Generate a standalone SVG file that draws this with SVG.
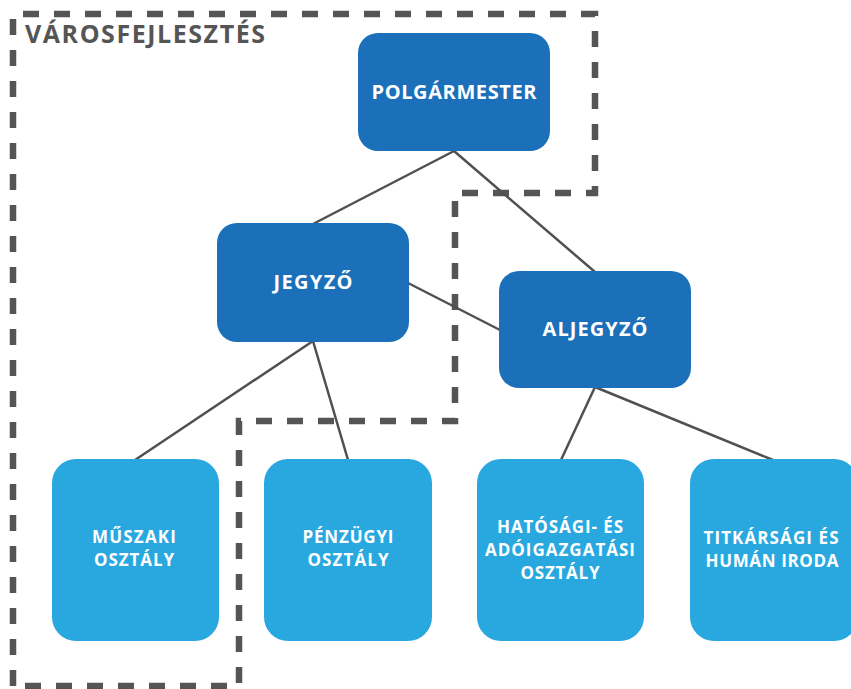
<svg xmlns="http://www.w3.org/2000/svg" width="851" height="689" viewBox="0 0 851 689">
<style>
.dark{fill:#1b70b9}
.light{fill:#29a8e0}
.t{font-family:"Open Sans","Liberation Sans",sans-serif;font-weight:bold;fill:#ffffff;text-anchor:middle}
.big{font-size:20px}
.small{font-size:17px}
.conn{stroke:#505050;stroke-width:2.5;fill:none}
.zone{stroke:#555555;stroke-width:6.5;fill:none;stroke-dasharray:16 15}
</style>
<rect width="851" height="689" fill="#ffffff"/>
<g id="zone">
<path class="zone" d="M13 686 L13 14 L595 14 L595 193 L455 193 L455 421 L239 421 L239 686 Z"/>
<text x="25" y="43" font-family="'Open Sans','Liberation Sans',sans-serif" font-weight="bold" font-size="25" fill="#555555" textLength="240" lengthAdjust="spacing">VÁROSFEJLESZTÉS</text>
</g>
<g id="connectors">
<line class="conn" x1="454" y1="151" x2="313" y2="224"/>
<line class="conn" x1="454" y1="151" x2="595" y2="272"/>
<line class="conn" x1="408" y1="283" x2="500" y2="330"/>
<line class="conn" x1="313" y1="341" x2="135" y2="460"/>
<line class="conn" x1="313" y1="341" x2="348" y2="460"/>
<line class="conn" x1="595" y1="387" x2="561" y2="460"/>
<line class="conn" x1="595" y1="387" x2="773" y2="460"/>
</g>
<g id="polgarmester">
<rect class="dark" x="358" y="33" width="192" height="118" rx="20"/>
<text class="t big" x="454" y="99" textLength="165" lengthAdjust="spacing">POLGÁRMESTER</text>
</g>
<g id="jegyzo">
<rect class="dark" x="217" y="223" width="192" height="119" rx="20"/>
<text class="t big" x="313" y="289" textLength="79" lengthAdjust="spacing">JEGYZŐ</text>
</g>
<g id="aljegyzo">
<rect class="dark" x="499" y="271" width="192" height="117" rx="20"/>
<text class="t big" x="595" y="336" textLength="105" lengthAdjust="spacing">ALJEGYZŐ</text>
</g>
<g id="muszaki">
<rect class="light" x="52" y="459" width="167" height="182" rx="24"/>
<text class="t small" x="134" y="543" textLength="84" lengthAdjust="spacing">MŰSZAKI</text>
<text class="t small" x="134" y="566" textLength="80" lengthAdjust="spacing">OSZTÁLY</text>
</g>
<g id="penzugyi">
<rect class="light" x="264" y="459" width="168" height="182" rx="24"/>
<text class="t small" x="348" y="543" textLength="91" lengthAdjust="spacing">PÉNZÜGYI</text>
<text class="t small" x="348" y="566" textLength="81" lengthAdjust="spacing">OSZTÁLY</text>
</g>
<g id="hatosagi">
<rect class="light" x="477" y="459" width="167" height="182" rx="24"/>
<text class="t small" x="560" y="533" textLength="126" lengthAdjust="spacing">HATÓSÁGI- ÉS</text>
<text class="t small" x="560" y="556" textLength="150" lengthAdjust="spacing">ADÓIGAZGATÁSI</text>
<text class="t small" x="560" y="579" textLength="79" lengthAdjust="spacing">OSZTÁLY</text>
</g>
<g id="titkarsagi">
<rect class="light" x="690" y="459" width="168" height="182" rx="24"/>
<text class="t small" x="771" y="544" textLength="135" lengthAdjust="spacing">TITKÁRSÁGI ÉS</text>
<text class="t small" x="772" y="567" textLength="133" lengthAdjust="spacing">HUMÁN IRODA</text>
</g>
</svg>
